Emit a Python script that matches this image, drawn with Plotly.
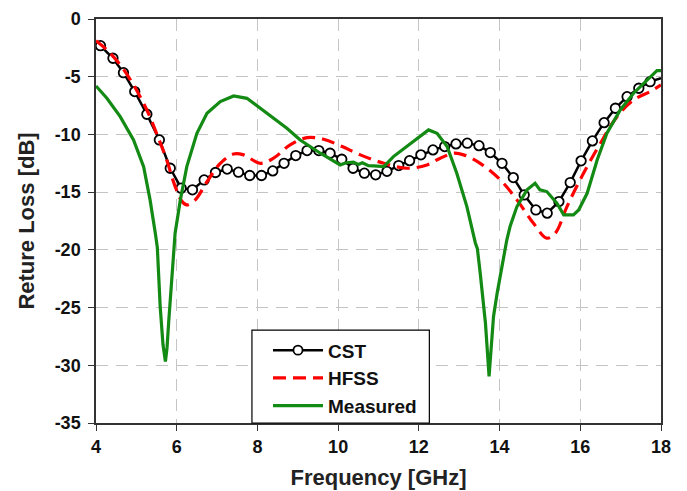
import plotly.graph_objects as go

# CST (markers every ~0.28 GHz; endpoints added without markers)
cst_x = [4.0, 4.11, 4.42, 4.68, 4.96, 5.26, 5.57, 5.84, 6.11, 6.39, 6.68, 6.96, 7.25, 7.53, 7.81,
         8.10, 8.38, 8.66, 8.95, 9.23, 9.52, 9.80, 10.09, 10.37, 10.65, 10.93, 11.21, 11.50,
         11.77, 12.05, 12.35, 12.64, 12.92, 13.20, 13.49, 13.77, 14.06, 14.34, 14.61, 14.90,
         15.18, 15.47, 15.75, 16.02, 16.30, 16.59, 16.87, 17.16, 17.45, 17.73, 18.0]
cst_y = [-2.0, -2.31, -3.40, -4.65, -6.29, -8.25, -10.48, -12.93, -14.66, -14.8, -13.94, -13.3,
         -13.0, -13.27, -13.56, -13.56, -13.16, -12.5, -11.83, -11.4, -11.4, -11.63, -12.15,
         -12.93, -13.36, -13.5, -13.2, -12.7, -12.27, -11.77, -11.34, -11.05, -10.82, -10.76,
         -10.97, -11.57, -12.5, -13.74, -15.24, -16.54, -16.82, -15.82, -14.17, -12.29, -10.56,
         -8.98, -7.73, -6.73, -6.0, -5.43, -5.13]

hfss_x = [4.0, 4.27, 4.6, 4.93, 5.26, 5.5, 5.75, 5.96, 6.13, 6.25, 6.46, 6.75, 7.08, 7.41, 7.66,
          8.07, 8.4, 8.81, 9.23, 9.64, 10.1, 10.55, 11.13, 11.71, 12.2, 12.53, 12.86, 13.11,
          13.52, 14.02, 14.43, 14.84, 15.17, 15.38, 15.67, 16.08, 16.5, 16.91, 17.32, 17.73, 18.0]
hfss_y = [-1.88, -2.68, -3.98, -5.71, -7.88, -9.9, -12.2, -14.5, -15.8, -16.1, -15.67, -14.1,
          -12.5, -11.69, -11.77, -12.5, -12.06, -10.9, -10.27, -10.42, -11.05, -11.77, -12.5,
          -12.93, -12.64, -12.06, -11.63, -11.77, -12.5, -13.94, -15.67, -17.7, -18.99, -18.56,
          -16.25, -13.36, -10.76, -8.46, -7.01, -6.29, -5.71]

meas_x = [4.0, 4.27, 4.6, 4.93, 5.18, 5.34, 5.47, 5.52, 5.59, 5.66, 5.72, 5.76, 5.8, 5.86, 5.92,
          5.96, 6.09, 6.25, 6.5, 6.75, 7.08, 7.41, 7.74, 8.24, 8.73, 9.06, 9.56, 10.05, 10.2,
          10.38, 10.5, 10.6, 10.75, 10.88, 11.13, 11.37, 11.71, 12.04, 12.24, 12.45, 12.7,
          12.94, 13.19, 13.4, 13.45, 13.52, 13.65, 13.74, 13.85, 13.94, 14.06, 14.18, 14.26,
          14.43, 14.68, 14.88, 15.0, 15.17, 15.42, 15.59, 15.83, 15.96, 16.17, 16.42, 16.66,
          16.99, 17.32, 17.65, 17.9, 18.0]
meas_y = [-5.8, -6.87, -8.46, -10.48, -12.79, -15.67, -18.56, -19.8, -24.9, -28.2, -29.67,
          -28.5, -26.3, -23.5, -20.58, -18.56, -15.67, -12.79, -9.9, -8.16, -7.16, -6.67, -6.87,
          -8.16, -9.46, -10.48, -11.63, -12.64, -12.45, -12.4, -12.6, -12.45, -12.7, -12.73,
          -12.79, -11.92, -11.05, -10.19, -9.61, -9.9, -11.05, -13.36, -16.25, -19.4, -19.9,
          -22.0, -26.35, -30.97, -25.77, -23.75, -21.44, -19.13, -17.98, -16.25, -14.8, -14.23,
          -14.8, -14.95, -15.96, -16.97, -16.97, -16.54, -15.1, -12.2, -9.9, -7.88, -6.43,
          -5.28, -4.47, -4.47]

x_ticks = [4, 6, 8, 10, 12, 14, 16, 18]
y_ticks = [0, -5, -10, -15, -20, -25, -30, -35]

cst_sizes = [0] + [9.5] * (len(cst_x) - 2) + [0]

FONT = "Liberation Sans, Arial, sans-serif"

fig = go.Figure()
fig.add_trace(go.Scatter(
    x=cst_x, y=cst_y, mode="lines+markers", name="CST",
    line=dict(color="black", width=2.5),
    marker=dict(symbol="circle", size=cst_sizes, color="white", opacity=1,
                line=dict(color="black", width=1.8)),
))
fig.add_trace(go.Scatter(
    x=hfss_x, y=hfss_y, mode="lines", name="HFSS", line_shape="spline",
    line=dict(color="#ff0000", width=3.2, dash="13px,7px"),
))
fig.add_trace(go.Scatter(
    x=meas_x, y=meas_y, mode="lines", name="Measured",
    line=dict(color="#138a13", width=3.2),
))

# legend frame (drawn as a box in paper coordinates)
fig.add_shape(type="rect", xref="paper", yref="paper",
              x0=0.276, x1=0.590, y0=0.0, y1=0.230,
              line=dict(color="black", width=1.2), fillcolor="white", layer="above")

axis_font = dict(family=FONT, size=18, color="#111", weight="bold")
title_font = dict(family=FONT, size=22, color="#222", weight="bold")
fig.update_layout(
    width=687, height=491,
    margin=dict(l=96, r=26, t=19, b=68),
    paper_bgcolor="white", plot_bgcolor="white",
    showlegend=True,
    legend=dict(x=0.3044, y=0.227, xanchor="left", yanchor="top",
                borderwidth=0, bgcolor="rgba(0,0,0,0)",
                font=dict(family=FONT, size=19, color="#111", weight="bold"),
                tracegroupgap=0, itemwidth=50),
    xaxis=dict(range=[4, 18], tickvals=x_ticks, ticktext=[str(v) for v in x_ticks],
               showgrid=True, gridcolor="#c4c4c4", griddash="12px,8px", gridwidth=1.2,
               showline=True, linecolor="#333", linewidth=1.5, mirror=True,
               ticks="outside", ticklen=6, tickcolor="#333", tickfont=axis_font,
               ticklabelstandoff=1, zeroline=False, automargin=False,
               title=dict(text="Frequency [GHz]", standoff=13, font=title_font)),
    yaxis=dict(range=[-35, 0], tickvals=y_ticks, ticktext=[str(v) for v in y_ticks],
               showgrid=True, gridcolor="#c4c4c4", griddash="12px,8px", gridwidth=1.2,
               showline=True, linecolor="#333", linewidth=1.5, mirror=True,
               ticks="outside", ticklen=6, tickcolor="#333", tickfont=axis_font,
               ticklabelstandoff=4, zeroline=False, automargin=False,
               title=dict(text="Reture Loss [dB]", standoff=14, font=title_font)),
)

fig.write_html("out.html")
